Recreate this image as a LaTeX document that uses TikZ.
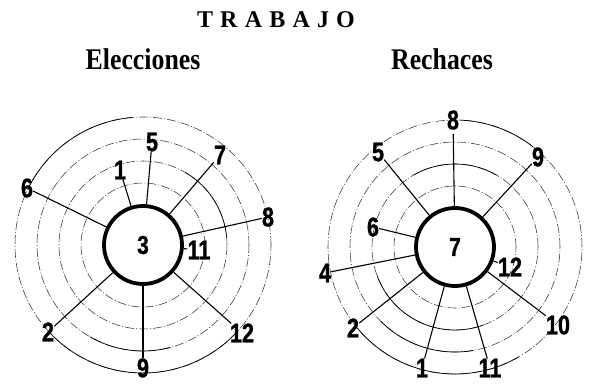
\documentclass[tikz,border=0pt]{standalone}
\usepackage{fontspec}
\setmainfont{Liberation Serif}
\newfontfamily\digitfont{Liberation Sans}[FakeStretch=0.8,FakeBold=1]
\newfontfamily\headfont{Liberation Serif}[FakeStretch=0.86]
\newfontfamily\titlefont{Liberation Serif}[LetterSpace=30]
\begin{document}
\begin{tikzpicture}[x=1pt,y=1pt,
  hub/.style={circle, draw, line width=3.8pt, minimum size=78pt, inner sep=0pt,
    font=\digitfont\bfseries\fontsize{26}{26}\selectfont},
  lab/.style={inner sep=0pt, font=\digitfont\bfseries\fontsize{27}{27}\selectfont},
  ray/.style={line width=1.1pt},
  ring/.style={line width=0.55pt, black!80, dash pattern=on 9pt off 2pt on 1pt off 2pt},
  solidarc/.style={line width=0.7pt},
  head/.style={font=\headfont\bfseries\fontsize{30}{30}\selectfont, anchor=base, inner sep=0pt}]
\useasboundingbox (0,0) rectangle (591,386);

% headings
\node[head, font=\titlefont\bfseries\fontsize{24}{24}\selectfont] (title) at (276,358) {TRABAJO};
\node[head] (hL) at (143,316) {Elecciones};
\node[head] (hR) at (442,316) {Rechaces};

% ---------- left: Elecciones ----------
\coordinate (oL) at (143,141);
\foreach \r in {62,84,106,128} \draw[ring] (oL) circle[radius=\r];
\draw[solidarc] ([shift={(154:128)}]oL) arc[start angle=154, end angle=95, radius=128];
\draw[solidarc] ([shift={(222:128)}]oL) arc[start angle=222, end angle=318, radius=128];
\draw[solidarc] ([shift={(240:106)}]oL) arc[start angle=240, end angle=285, radius=106];
\draw[solidarc] ([shift={(60:84)}]oL) arc[start angle=60, end angle=5, radius=84];
\node[hub, fill=white] (cL) at (oL) {3};
\node[lab] (L1) at (120,216) {1};
\node[lab] (L5) at (152,244) {5};
\node[lab] (L7) at (220,231) {7};
\node[lab] (L8) at (268,169) {8};
\node[lab] (L11) at (199,136) {11};
\node[lab] (L12) at (242,53) {12};
\node[lab] (L9) at (143,18) {9};
\node[lab] (L2) at (48,54) {2};
\node[lab] (L6) at (27,198) {6};
\foreach \n in {L1,L5,L7,L8,L11,L12,L9,L2,L6} \draw[ray] (cL) -- (\n);

% ---------- right: Rechaces ----------
\coordinate (oR) at (455,139);
\foreach \r in {61,83,105,127} \draw[ring] (oR) circle[radius=\r];
\draw[solidarc] ([shift={(218:127)}]oR) arc[start angle=218, end angle=300, radius=127];
\draw[solidarc] ([shift={(88:127)}]oR) arc[start angle=88, end angle=52, radius=127];
\draw[solidarc] ([shift={(225:105)}]oR) arc[start angle=225, end angle=280, radius=105];
\draw[solidarc] ([shift={(200:83)}]oR) arc[start angle=200, end angle=290, radius=83];
\draw[solidarc] ([shift={(120:83)}]oR) arc[start angle=120, end angle=60, radius=83];
\node[hub, fill=white] (cR) at (oR) {7};
\node[lab] (R8) at (453,266) {8};
\node[lab] (R9) at (538,229) {9};
\node[lab] (R5) at (378,234) {5};
\node[lab] (R6) at (373,159) {6};
\node[lab] (R4) at (325,113) {4};
\node[lab] (R2) at (353,58) {2};
\node[lab] (R1) at (422,18) {1};
\node[lab] (R11) at (490,18) {11};
\node[lab] (R10) at (558,61) {10};
\node[lab] (R12) at (510,119) {12};
\foreach \n in {R9,R5,R6,R4,R2,R1,R11,R10,R12} \draw[ray] (cR) -- (\n);
\draw[ray, shorten >=4pt] (cR) -- (R8);
\end{tikzpicture}
\end{document}
